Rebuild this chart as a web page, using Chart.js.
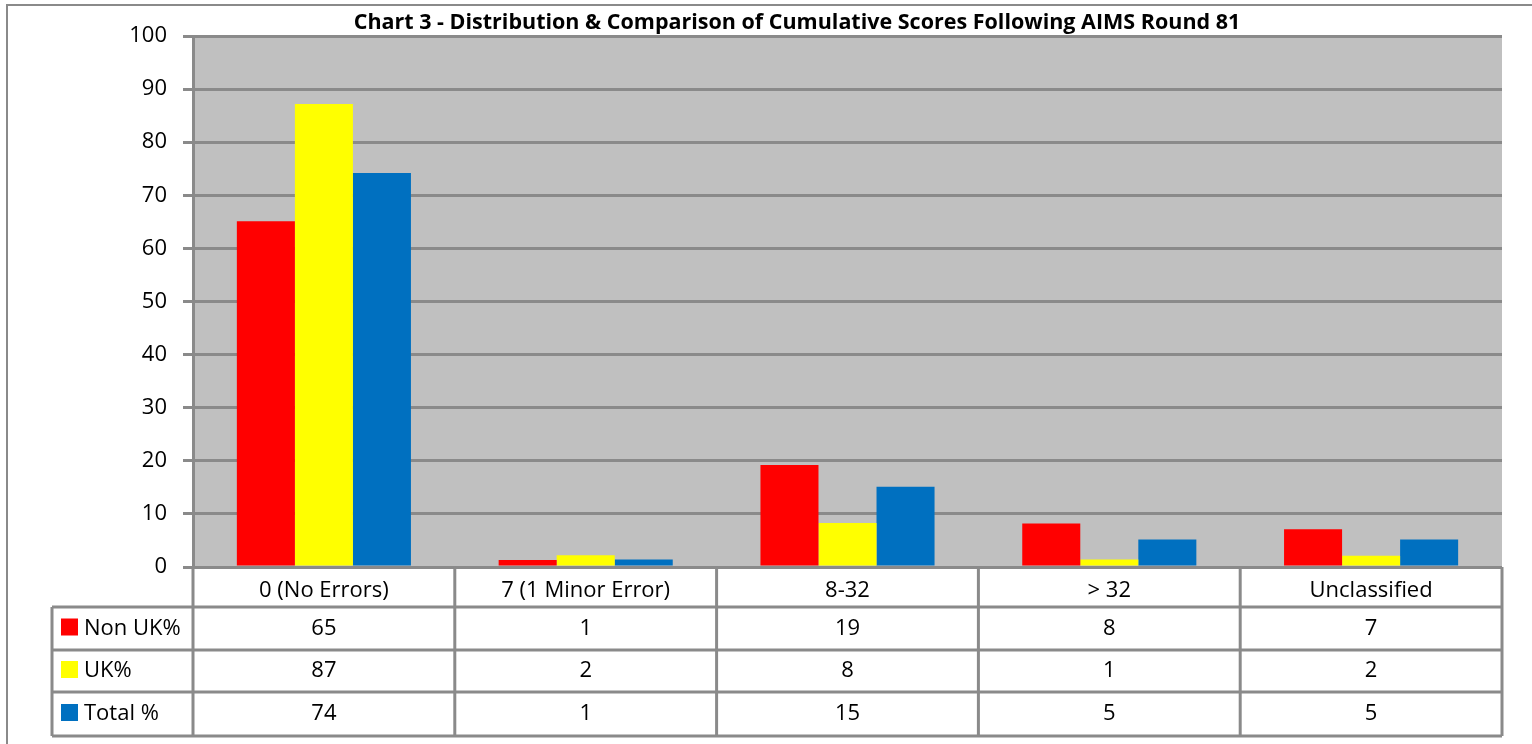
<!DOCTYPE html>
<html><head><meta charset="utf-8">
<script src="https://cdn.jsdelivr.net/npm/chart.js@4.4.0/dist/chart.umd.min.js"></script>
<style>html,body{margin:0;padding:0;background:#fff;} #wrap{width:1532px;height:744px;position:relative;}</style>
</head><body><div id="wrap"><canvas id="c" width="1532" height="744"></canvas></div>
<script>
const categories = ['0 (No Errors)', '7 (1 Minor Error)', '8-32', '> 32', 'Unclassified'];
const nonUK = [65.1, 1.3, 19.2, 8.2, 7.1];
const uk = [87.2, 2.2, 8.3, 1.4, 2.1];
const total = [74.2, 1.4, 15.1, 5.2, 5.2];
const seriesNames = ['Non UK%', 'UK%', 'Total %'];
const seriesColors = ['#FF0000', '#FFFF00', '#0070C0'];
const titleText = 'Chart 3 - Distribution & Comparison of Cumulative Scores Following AIMS Round 81';

const FONT = '"Open Sans", Lato, sans-serif';
const LINE = '#8a8a8a';

const decorPlugin = {
  id: 'decor',
  beforeDraw(chart) {
    const ctx = chart.ctx, a = chart.chartArea;
    ctx.save();
    ctx.fillStyle = '#fff';
    ctx.fillRect(0, 0, chart.width, chart.height);
    ctx.fillStyle = '#C0C0C0';
    ctx.fillRect(a.left, a.top, a.right - a.left, a.bottom - a.top);
    ctx.restore();
  },
  afterDraw(chart) {
    const ctx = chart.ctx, a = chart.chartArea;
    const n = categories.length;
    const cw = (a.right - a.left) / n;
    const rows = [nonUK, uk, total];
    const rowTops = [607, 650, 692, 736];
    const tableLeft = 52;
    ctx.save();
    // outer chart border
    ctx.strokeStyle = LINE; ctx.lineWidth = 2;
    ctx.beginPath(); ctx.moveTo(7, 744); ctx.lineTo(7, 5); ctx.lineTo(1532, 5); ctx.stroke();
    // title
    ctx.fillStyle = '#000';
    ctx.font = 'bold 21.5px ' + FONT;
    ctx.textAlign = 'center'; ctx.textBaseline = 'middle';
    ctx.fillText(titleText, 797, 23);
    // table lines
    ctx.strokeStyle = LINE; ctx.lineWidth = 3;
    ctx.beginPath();
    for (let r = 0; r < rowTops.length; r++) {
      ctx.moveTo(tableLeft, rowTops[r]); ctx.lineTo(a.right, rowTops[r]);
    }
    ctx.moveTo(tableLeft, rowTops[0]); ctx.lineTo(tableLeft, rowTops[3]);
    for (let i = 0; i <= n; i++) {
      const x = a.left + i * cw;
      ctx.moveTo(x, a.bottom); ctx.lineTo(x, rowTops[3]);
    }
    ctx.stroke();
    // row labels & values
    ctx.font = '22px ' + FONT;
    for (let r = 0; r < rows.length; r++) {
      const cy = (rowTops[r] + rowTops[r + 1]) / 2;
      ctx.fillStyle = seriesColors[r];
      ctx.fillRect(61, cy - 10, 17, 17);
      ctx.fillStyle = '#000';
      ctx.textAlign = 'left';
      ctx.fillText(seriesNames[r], 84, cy);
      ctx.textAlign = 'center';
      for (let i = 0; i < n; i++) {
        ctx.fillText(String(Math.round(rows[r][i])), chart.scales.x.getPixelForValue(i), cy);
      }
    }
    ctx.restore();
  }
};

new Chart(document.getElementById('c'), {
  type: 'bar',
  data: {
    labels: categories,
    datasets: [
      { label: seriesNames[0], data: nonUK, backgroundColor: seriesColors[0] },
      { label: seriesNames[1], data: uk, backgroundColor: seriesColors[1] },
      { label: seriesNames[2], data: total, backgroundColor: seriesColors[2] }
    ]
  },
  options: {
    responsive: false,
    devicePixelRatio: 1,
    animation: false,
    layout: { padding: { top: 36, left: 0, right: 30, bottom: 0 } },
    datasets: { bar: { categoryPercentage: 0.665, barPercentage: 1.0, borderWidth: 0 } },
    plugins: { legend: { display: false }, tooltip: { enabled: false }, title: { display: false } },
    scales: {
      x: {
        grid: { display: false },
        border: { display: false },
        ticks: { font: { family: FONT, size: 22 }, color: '#000', padding: 3, maxRotation: 0, autoSkip: false },
        afterFit(s) { s.height = 177; }
      },
      y: {
        min: 0, max: 100,
        ticks: { stepSize: 10, font: { family: FONT, size: 22 }, color: '#000', padding: 16 },
        grid: { color: LINE, lineWidth: 3, tickLength: 10, drawTicks: true },
        border: { display: true, color: LINE, width: 3 },
        afterFit(s) { s.width = 193; }
      }
    }
  },
  plugins: [decorPlugin]
});
</script>
</body></html>
